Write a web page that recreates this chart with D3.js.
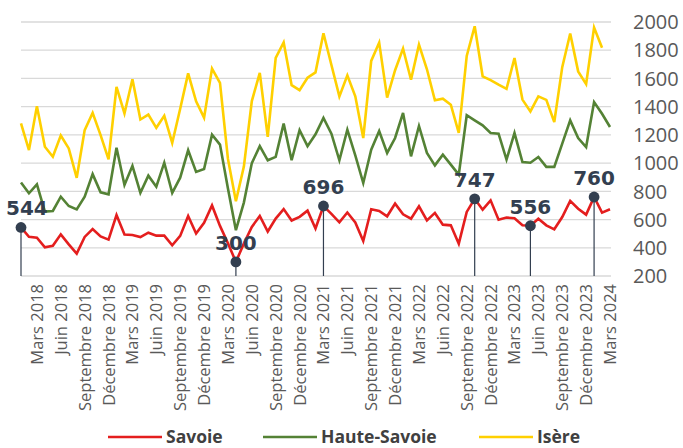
<!DOCTYPE html>
<html>
<head>
<meta charset="utf-8">
<script src="https://cdn.jsdelivr.net/npm/d3@7"></script>
<style>
  body { margin: 0; background: #fff; }
  svg { display: block; }
</style>
</head>
<body>
<svg id="chart" width="683" height="448"></svg>
<script>
const monthNames = ['Janvier', 'Février', 'Mars', 'Avril', 'Mai', 'Juin', 'Juillet',
  'Août', 'Septembre', 'Octobre', 'Novembre', 'Décembre']

// janvier 2018 -> mars 2024, one value per month
const months = d3.range(75).map((i) => monthNames[i % 12] + ' ' + (2018 + Math.floor(i / 12)))

const savoie = [544, 478, 471, 403, 414, 495, 424, 359, 477, 532, 480, 458, 632, 494, 490,
  476, 507, 486, 486, 418, 484, 625, 501, 577, 700, 555, 432, 300, 430, 548, 625, 515, 607,
  674, 593, 619, 663, 537, 696, 640, 580, 650, 580, 448, 673, 661, 623, 713, 637, 606, 694,
  594, 647, 564, 559, 429, 654, 747, 670, 736, 599, 614, 609, 559, 556, 606, 559, 531, 618,
  732, 677, 635, 760, 649, 673]

const hauteSavoie = [863, 786, 849, 656, 661, 762, 696, 672, 762, 922, 793, 779, 1109, 845,
  981, 790, 911, 833, 1003, 789, 897, 1091, 938, 958, 1202, 1131, 820, 525, 720, 1000, 1120,
  1020, 1044, 1280, 1020, 1233, 1120, 1204, 1320, 1209, 1020, 1237, 1055, 859, 1095, 1228,
  1072, 1178, 1355, 1048, 1263, 1072, 984, 1060, 989, 918, 1339, 1303, 1268, 1213, 1209,
  1025, 1213, 1008, 1003, 1043, 973, 973, 1138, 1303, 1178, 1114, 1433, 1350, 1256]

const isere = [1281, 1092, 1403, 1116, 1045, 1196, 1104, 896, 1234, 1356, 1198, 1026, 1540,
  1352, 1594, 1309, 1344, 1250, 1335, 1143, 1385, 1636, 1438, 1322, 1670, 1568, 1030, 730,
  975, 1440, 1639, 1186, 1745, 1855, 1552, 1517, 1605, 1643, 1920, 1695, 1473, 1622, 1473,
  1178, 1724, 1854, 1464, 1658, 1811, 1591, 1839, 1665, 1445, 1457, 1414, 1215, 1760, 1970,
  1615, 1588, 1556, 1526, 1745, 1450, 1366, 1473, 1448, 1291, 1680, 1918, 1650, 1560, 1960,
  1818, null]

// months picked out with a marker on the Savoie line
const highlights = [0, 27, 38, 57, 64, 72]

const yTicks = [200, 400, 600, 800, 1000, 1200, 1400, 1600, 1800, 2000]

const series = [
  { name: 'Savoie', values: savoie, color: '#E41E1E' },
  { name: 'Haute-Savoie', values: hauteSavoie, color: '#548235' },
  { name: 'Isère', values: isere, color: '#FFD000' },
]

const svg = d3.select('#chart')

const x = d3.scaleLinear().domain([0, months.length - 1]).range([21, 610])
const y = d3.scaleLinear().domain([200, 2000]).range([276, 22])

// grid
svg.append('g')
  .selectAll('line')
  .data(yTicks)
  .join('line')
  .attr('x1', 21)
  .attr('x2', 611)
  .attr('y1', (d) => y(d))
  .attr('y2', (d) => y(d))
  .attr('stroke', '#D9D9D9')
  .attr('stroke-width', 1.3)

// right axis labels
svg.append('g')
  .selectAll('text')
  .data(yTicks)
  .join('text')
  .attr('x', 633)
  .attr('y', (d) => y(d))
  .attr('dy', '0.36em')
  .attr('font-family', 'Open Sans')
  .attr('font-size', 20)
  .attr('fill', '#595959')
  .text((d) => d)

// category labels every 3 months
const shown = d3.range(2, months.length, 3)
svg.append('g')
  .selectAll('text')
  .data(shown)
  .join('text')
  .attr('transform', (i) => `translate(${x(i)},284) rotate(-90)`)
  .attr('text-anchor', 'end')
  .attr('dy', '0.36em')
  .attr('font-family', 'Open Sans')
  .attr('font-size', 16.5)
  .attr('fill', '#595959')
  .text((i) => months[i])

const line = d3.line()
  .defined((d) => d != null)
  .x((d, i) => x(i))
  .y((d) => y(d))

// draw Isère first so Savoie sits on top
svg.append('g')
  .selectAll('path')
  .data(series.slice().reverse())
  .join('path')
  .attr('d', (s) => line(s.values))
  .attr('fill', 'none')
  .attr('stroke', (s) => s.color)
  .attr('stroke-width', 2.6)
  .attr('stroke-linejoin', 'miter')

// markers
const marks = svg.append('g')
marks.selectAll('line')
  .data(highlights)
  .join('line')
  .attr('x1', (i) => x(i))
  .attr('x2', (i) => x(i))
  .attr('y1', (i) => y(savoie[i]))
  .attr('y2', 276)
  .attr('stroke', '#333F50')
  .attr('stroke-width', 1.2)

marks.selectAll('circle')
  .data(highlights)
  .join('circle')
  .attr('cx', (i) => x(i))
  .attr('cy', (i) => y(savoie[i]))
  .attr('r', 5.4)
  .attr('fill', '#333F50')

marks.selectAll('text')
  .data(highlights)
  .join('text')
  .attr('x', (i) => x(i))
  .attr('y', (i) => y(savoie[i]) - 12)
  .attr('text-anchor', 'middle')
  .attr('font-family', 'DejaVu Sans')
  .attr('font-weight', 'bold')
  .attr('font-size', 20)
  .attr('fill', '#333F50')
  .text((i) => savoie[i])
  .each(function (i) {
    // keep the label inside the chart on the left edge
    const w = this.getComputedTextLength()
    if (x(i) - w / 2 < 6) d3.select(this).attr('x', 6 + w / 2)
  })

// legend
const legendX = [108, 263, 479]
const legend = svg.append('g')
  .selectAll('g')
  .data(series)
  .join('g')
  .attr('transform', (s, i) => `translate(${legendX[i]},437)`)

legend.append('line')
  .attr('x1', 0)
  .attr('x2', 54)
  .attr('stroke', (s) => s.color)
  .attr('stroke-width', 2.6)

legend.append('text')
  .attr('x', 58)
  .attr('dy', '0.35em')
  .attr('font-family', 'Open Sans')
  .attr('font-weight', 'bold')
  .attr('font-size', 17.5)
  .attr('fill', '#404040')
  .text((s) => s.name)
</script>
</body>
</html>
